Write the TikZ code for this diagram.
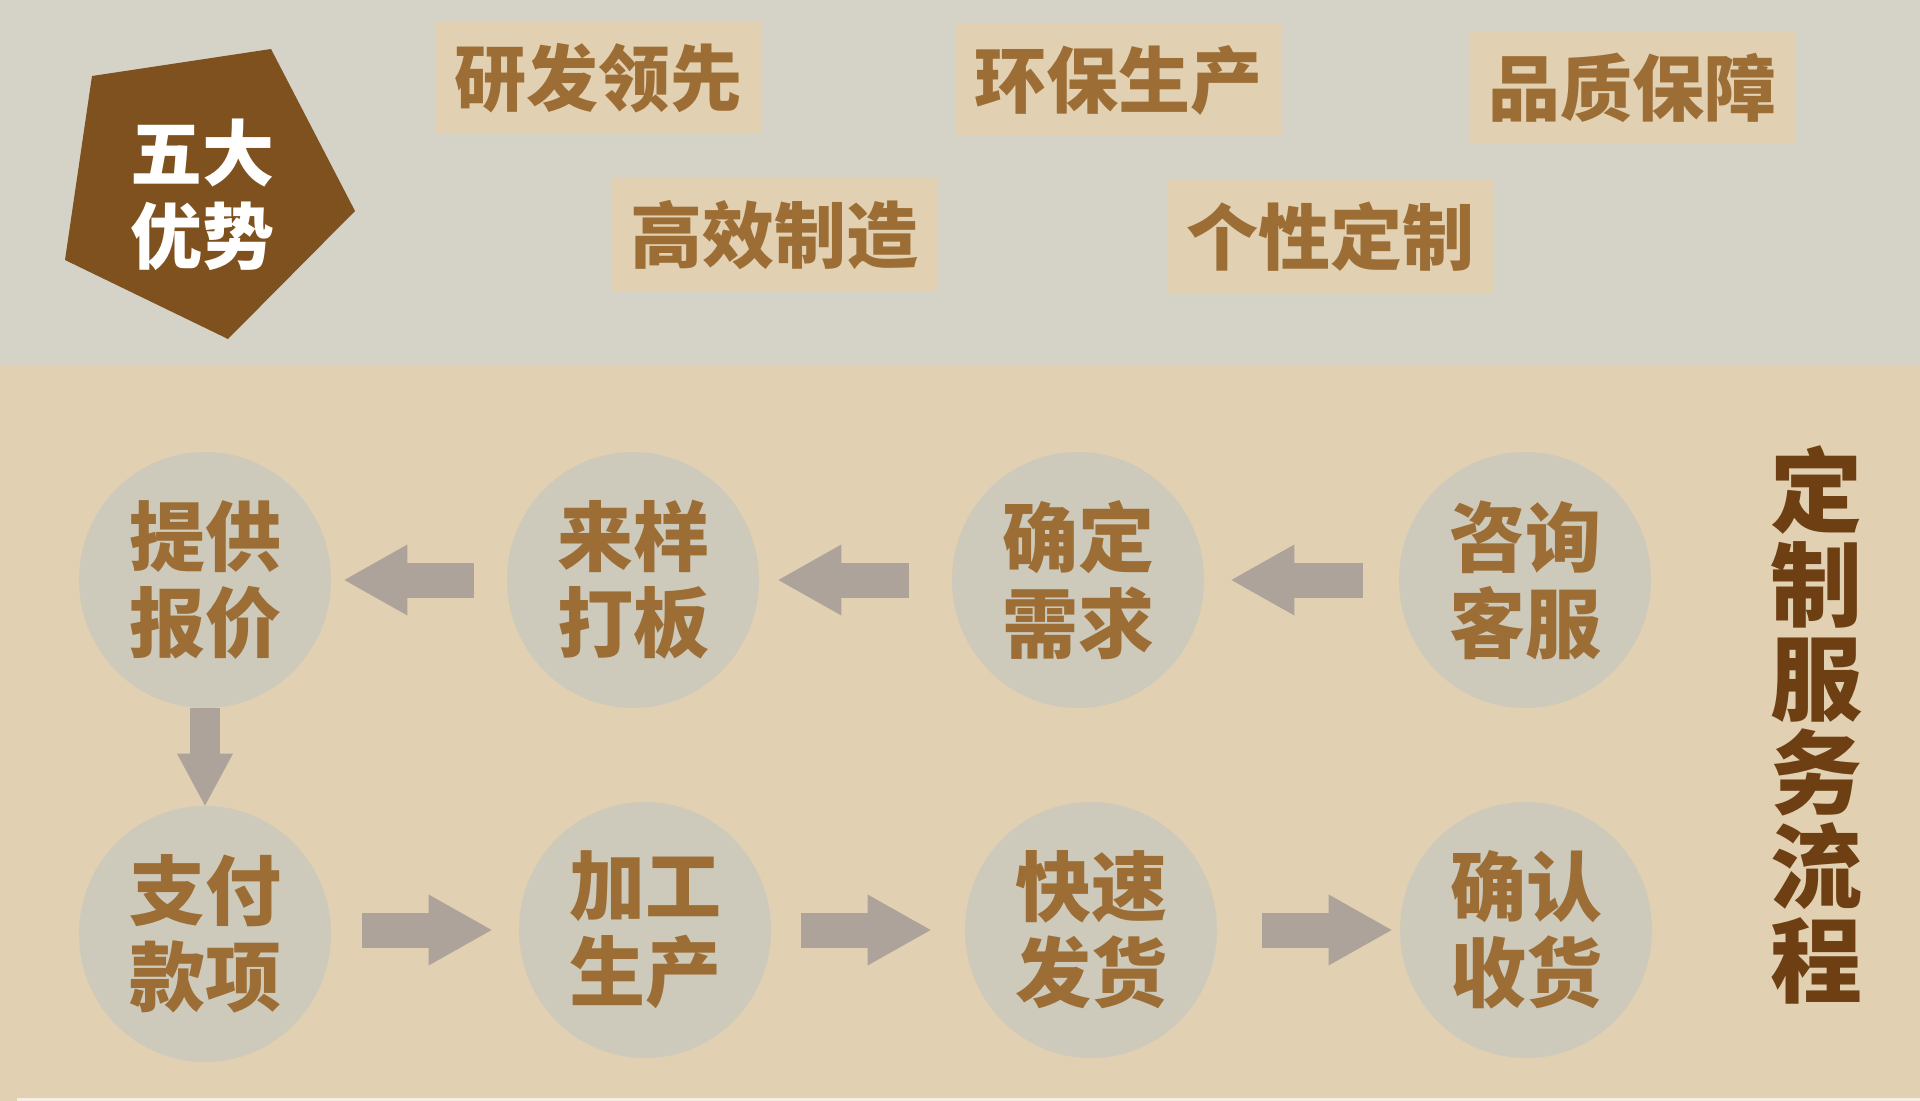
\documentclass[tikz,border=0pt]{standalone}
\usepackage{fontspec}
\newfontfamily\cjk{Noto Sans CJK SC}
\usetikzlibrary{shapes.geometric,arrows.meta}
\definecolor{topbg}{HTML}{D5D3C7}
\definecolor{lowbg}{HTML}{E1D0B1}
\definecolor{ochre}{HTML}{9C6E35}
\definecolor{darkbrown}{HTML}{6E3F12}
\definecolor{penta}{HTML}{7F511E}
\definecolor{disc}{HTML}{CDCABC}
\definecolor{arrowgray}{HTML}{ADA39A}

\begin{document}
\begin{tikzpicture}[x=0.5pt,y=-0.5pt,
  advbox/.style={fill=lowbg, minimum width=163.5pt, minimum height=56.5pt, inner sep=0pt, text=ochre, font=\cjk\bfseries\fontsize{36}{40}\selectfont},
  stage/.style={ellipse, fill=disc, minimum width=126pt, minimum height=128pt, inner sep=0pt, text=ochre, align=center, font=\cjk\bfseries\fontsize{38}{43}\selectfont},
  flow/.style={draw=arrowgray, line width=17.5pt, -{Triangle[length=31.5pt,width=35.5pt,line width=0pt]}},
  downflow/.style={draw=arrowgray, line width=15pt, -{Triangle[length=26pt,width=28pt,line width=0pt]}}]

\useasboundingbox (0,0) rectangle (1920,1101);
\fill [topbg] (0,0) rectangle (1920,366);
\fill [lowbg] (0,366) rectangle (1920,1101);
\fill [white!65!lowbg] (17,1098) rectangle (1920,1101);

% five advantages
\fill [penta] (92,76) -- (271,49) -- (355,211) -- (228,339) -- (65,260) -- cycle;
\node (wuda) at (202,195) [align=center, text=white, font=\cjk\bfseries\fontsize{36}{41.5}\selectfont] {五大\\优势};

\node (yanfa) at (598,78) [advbox] {研发领先};
\node (huanbao) at (1118,80) [advbox] {环保生产};
\node (pinzhi) at (1632,88) [advbox] {品质保障};
\node (gaoxiao) at (774,235) [advbox] {高效制造};
\node (gexing) at (1330,237) [advbox] {个性定制};

% service flow
\node (ti) at (205,580) [stage] {提供\\报价};
\node (lai) at (633,580) [stage] {来样\\打板};
\node (que) at (1078,580) [stage] {确定\\需求};
\node (zi) at (1525,580) [stage] {咨询\\客服};

\node (zhi) at (205,934) [stage] {支付\\款项};
\node (jia) at (645,930) [stage] {加工\\生产};
\node (kuai) at (1091,930) [stage] {快速\\发货};
\node (shou) at (1526,930) [stage] {确认\\收货};

\draw [flow, shorten <=18pt, shorten >=13.5pt] (zi) -- (que);
\draw [flow, shorten <=21.5pt, shorten >=9.5pt] (que) -- (lai);
\draw [flow, shorten <=16.5pt, shorten >=6.5pt] (lai) -- (ti);
\draw [downflow] (ti.south) -- (zhi.north);
\draw [flow, shorten <=15.5pt, shorten >=13.5pt] (zhi.east |- jia) -- (jia);
\draw [flow, shorten <=15pt, shorten >=17pt] (jia) -- (kuai);
\draw [flow, shorten <=22.5pt, shorten >=4pt] (kuai) -- (shou);

\node (title) at (1816,725) [align=center, text=darkbrown, font=\cjk\bfseries\fontsize{46}{47}\selectfont] {定\\制\\服\\务\\流\\程};

\end{tikzpicture}
\end{document}
